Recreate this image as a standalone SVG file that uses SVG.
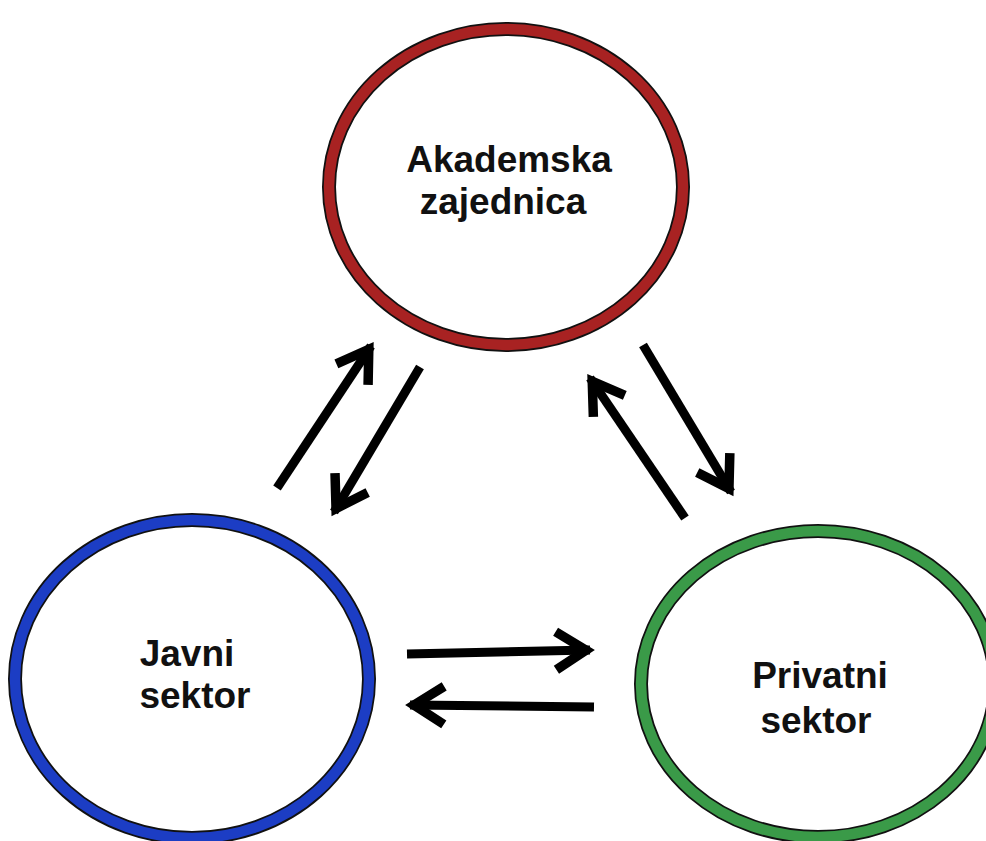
<svg xmlns="http://www.w3.org/2000/svg" width="986" height="841" viewBox="0 0 986 841">
<style>
.outline{fill:#fff;stroke:#111;stroke-width:14}
.ring{fill:none;stroke-width:10.5}
.lbl{font-family:"Liberation Sans",Arial,sans-serif;font-weight:bold;font-size:37px;fill:#111;text-anchor:middle}
.arr{fill:none;stroke:#000;stroke-width:9;marker-end:url(#head)}
</style>
<defs>
<marker id="head" markerUnits="userSpaceOnUse" viewBox="-45 -30 60 60" markerWidth="60" markerHeight="60" refX="0" refY="0" orient="auto" overflow="visible">
<path d="M-34 -19 L-4 0 L-34 19" fill="none" stroke="#000" stroke-width="9.5" stroke-linejoin="miter" stroke-miterlimit="10"/>
</marker>
</defs>
<rect width="986" height="841" fill="#fff"/>
<g id="akademska">
<ellipse class="outline" cx="506" cy="187" rx="177" ry="158"/>
<ellipse class="ring" cx="506" cy="187" rx="177" ry="158" stroke="#a82222"/>
<text class="lbl" x="509" y="172" font-size="39">Akademska</text>
<text class="lbl" x="503" y="214" font-size="39">zajednica</text>
</g>
<g id="javni">
<ellipse class="outline" cx="192" cy="679" rx="177" ry="159"/>
<ellipse class="ring" cx="192" cy="679" rx="177" ry="159" stroke="#1c3dc4"/>
<text class="lbl" x="187" y="666">Javni</text>
<text class="lbl" x="195" y="708">sektor</text>
</g>
<g id="privatni">
<ellipse class="outline" cx="818" cy="684" rx="177" ry="153"/>
<ellipse class="ring" cx="818" cy="684" rx="177" ry="153" stroke="#3a9a48"/>
<text class="lbl" x="820" y="688">Privatni</text>
<text class="lbl" x="816" y="733">sektor</text>
</g>
<g id="connectors">
<line class="arr" x1="277" y1="488" x2="371" y2="346"/>
<line class="arr" x1="420" y1="367" x2="334" y2="512"/>
<line class="arr" x1="685" y1="518" x2="590" y2="378"/>
<line class="arr" x1="643" y1="345" x2="731" y2="492"/>
<line class="arr" x1="407" y1="654" x2="590" y2="650" stroke-width="10"/>
<line class="arr" x1="594" y1="707" x2="410" y2="705" stroke-width="10"/>
</g>
</svg>
